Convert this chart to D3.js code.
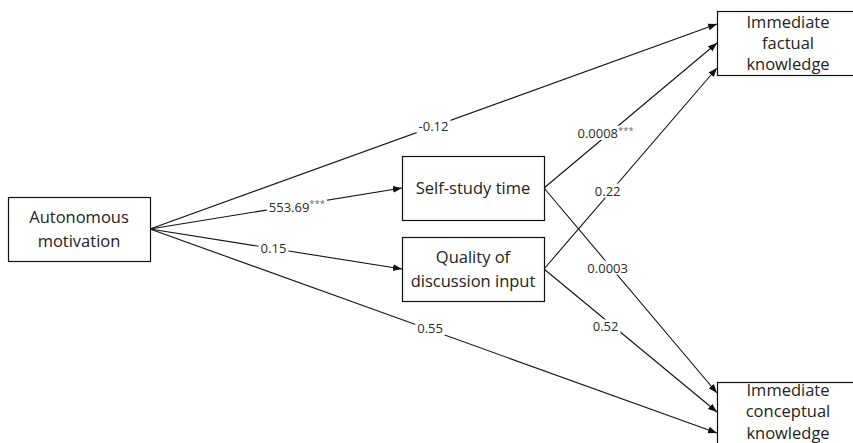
<!DOCTYPE html>
<html>
<head>
<meta charset="utf-8">
<script src="https://cdn.jsdelivr.net/npm/d3@7/dist/d3.min.js"></script>
<style>
  html, body { margin: 0; padding: 0; background: #fff; }
  svg { display: block; }
</style>
</head>
<body>
<svg id="chart" width="853" height="443"></svg>
<script>
// Path model: variables (boxes) and standardized path coefficients.
const nodeIds    = ["auto", "study", "quality", "factual", "concept"];
const nodeLabels = [
  ["Autonomous", "motivation"],
  ["Self-study time"],
  ["Quality of", "discussion input"],
  ["Immediate", "factual", "knowledge"],
  ["Immediate", "conceptual", "knowledge"]
];

const pathFrom  = ["auto", "auto", "auto", "auto", "study", "study", "quality", "quality"];
const pathTo    = ["factual", "study", "quality", "concept", "factual", "concept", "factual", "concept"];
const pathCoef  = ["-0.12", "553.69", "0.15", "0.55", "0.0008", "0.0003", "0.22", "0.52"];
const pathStars = ["", "***", "", "", "***", "", "", ""];

// ---- layout ----
const svg = d3.select("#chart");

// column positions of the box grid
const colX = d3.scaleOrdinal().domain([0, 1, 2]).range([8, 402, 717]);
const boxW = 142, boxH = 64;
const nodePos = {
  auto:    { col: 0, top: 197, shift: 0 },
  study:   { col: 1, top: 156, shift: 0 },
  quality: { col: 1, top: 237, shift: 0 },
  factual: { col: 2, top: 11,  shift: 0 },
  concept: { col: 2, top: 382, shift: -2.5 }
};
// vertical ports where incoming arrows meet the outcome boxes
const inPort = {
  "auto>factual": 24, "study>factual": 43, "quality>factual": 68,
  "study>concept": 393, "quality>concept": 412, "auto>concept": 433
};
// label placement along each path: fraction of length and vertical nudge
const labelT  = [0.5, 0.583, 0.49, 0.494, 0.356, 0.368, 0.368, 0.356];
const labelDy = [0, 2, 0, -1, -3, 4.5, -4, 7];

const nodes = nodeIds.map((id, i) => {
  const p = nodePos[id];
  const x = colX(p.col);
  return { id, lines: nodeLabels[i], x, y: p.top, w: boxW, h: boxH,
           cx: x + boxW / 2, cy: p.top + boxH / 2, shift: p.shift };
});
const byId = Object.fromEntries(nodes.map(n => [n.id, n]));

const edges = pathFrom.map((f, i) => {
  const s = byId[f], t = byId[pathTo[i]];
  const key = f + ">" + pathTo[i];
  const x1 = s.x + s.w, y1 = s.cy;
  const x2 = t.x, y2 = inPort[key] !== undefined ? inPort[key] : t.cy;
  return { x1, y1, x2, y2, coef: pathCoef[i], stars: pathStars[i],
           t: labelT[i], dy: labelDy[i] };
});

// arrowhead marker
svg.append("defs").append("marker")
  .attr("id", "arrow")
  .attr("viewBox", "0 0 10 10")
  .attr("refX", 10).attr("refY", 5)
  .attr("markerWidth", 9).attr("markerHeight", 9)
  .attr("markerUnits", "userSpaceOnUse")
  .attr("orient", "auto")
  .append("path")
  .attr("d", "M0,1.2 L10,5 L0,8.8 Z")
  .attr("fill", "#111");

// paths
svg.append("g").selectAll("line").data(edges).join("line")
  .attr("x1", d => d.x1).attr("y1", d => d.y1)
  .attr("x2", d => d.x2).attr("y2", d => d.y2)
  .attr("stroke", "#111").attr("stroke-width", 1.1)
  .attr("marker-end", "url(#arrow)");

// coefficient labels with a white backing that breaks the line
const lab = svg.append("g").selectAll("g").data(edges).join("g")
  .attr("transform", d => {
    const x = d.x1 + (d.x2 - d.x1) * d.t;
    const y = d.y1 + (d.y2 - d.y1) * d.t + d.dy;
    return `translate(${x},${y})`;
  });
const txt = lab.append("text")
  .attr("text-anchor", "middle")
  .attr("dy", "0.35em")
  .attr("font-family", "'Open Sans', sans-serif")
  .attr("font-size", 13)
  .attr("fill", "#2a2a2a");
txt.append("tspan").text(d => d.coef);
txt.append("tspan")
  .attr("font-size", 9.5)
  .attr("dy", "-0.45em")
  .attr("fill", "#666")
  .text(d => d.stars);
lab.each(function () {
  const g = d3.select(this);
  const bb = g.select("text").node().getBBox();
  g.insert("rect", "text")
    .attr("x", bb.x - 2).attr("y", bb.y + 2)
    .attr("width", bb.width + 4).attr("height", bb.height - 4)
    .attr("fill", "#fff");
});

// boxes
const box = svg.append("g").selectAll("g").data(nodes).join("g");
box.append("rect")
  .attr("x", d => d.x + 0.5).attr("y", d => d.y + 0.5)
  .attr("width", d => d.w).attr("height", d => d.h)
  .attr("fill", "#fff").attr("stroke", "#111").attr("stroke-width", 1.2);
box.append("text")
  .attr("text-anchor", "middle")
  .attr("font-family", "'Open Sans', sans-serif")
  .attr("font-size", 16.5)
  .attr("fill", "#222")
  .each(function (d) {
    const n = d.lines.length;
    const lh = n === 3 ? 21.2 : 24;
    d3.select(this).selectAll("tspan").data(d.lines).join("tspan")
      .attr("x", d.cx)
      .attr("y", (l, i) => d.cy + d.shift + (i - (n - 1) / 2) * lh)
      .attr("dy", "0.36em")
      .text(l => l);
  });
</script>
</body>
</html>
